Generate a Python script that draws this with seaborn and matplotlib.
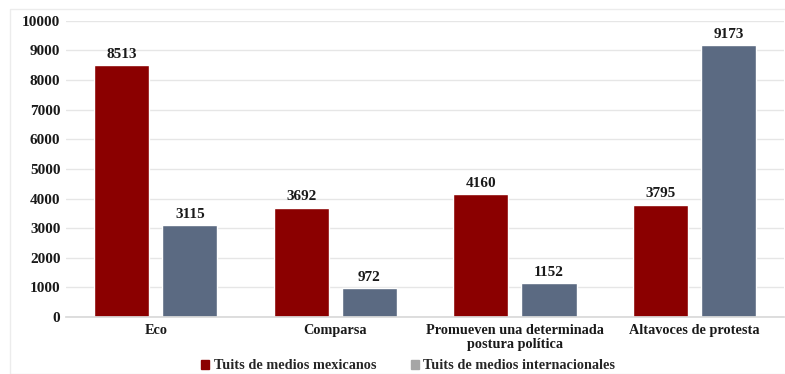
import matplotlib.pyplot as plt
import seaborn as sns
import pandas as pd
from matplotlib.patches import Patch

categorias = ["Eco", "Comparsa", "Promueven una determinada\npostura política", "Altavoces de protesta"]
mexicanos = [8513, 3692, 4160, 3795]
internacionales = [3115, 972, 1152, 9173]
series = ["Tuits de medios mexicanos", "Tuits de medios internacionales"]

df = pd.DataFrame({
    "categoria": categorias * 2,
    "serie": [series[0]] * 4 + [series[1]] * 4,
    "valor": mexicanos + internacionales,
})

sns.set_theme(style="white")
plt.rcParams["font.family"] = ["Liberation Serif", "DejaVu Serif"]

fig = plt.figure(figsize=(7.85, 3.74), dpi=100)
ax = fig.add_axes([0.084, 0.152, 0.915, 0.793])
colores = ["#8b0000", "#5b6a82"]
sns.barplot(data=df, x="categoria", y="valor", hue="serie", palette=colores,
            width=0.76, gap=0.19, ax=ax, legend=False, saturation=1)

for cont in ax.containers:
    ax.bar_label(cont, fmt="%d", padding=3, fontsize=11, fontweight="bold", color="#1a1a1a")

ax.set_ylim(0, 10000)
ax.set_xlim(-0.5, 3.5)
ax.set_yticks(range(0, 10001, 1000))
ax.yaxis.grid(True, color="#e6e6e6", linewidth=1)
ax.set_axisbelow(True)
for s in ["top", "right", "left"]:
    ax.spines[s].set_visible(False)
ax.spines["bottom"].set_color("#d9d9d9")
ax.set_xlabel("")
ax.set_ylabel("")
ax.tick_params(axis="y", length=0, labelsize=11, colors="#1a1a1a", pad=4)
ax.tick_params(axis="x", length=0, labelsize=10.3, colors="#1a1a1a", pad=5)
for t in ax.get_xticklabels() + ax.get_yticklabels():
    t.set_fontweight("bold")
for t in ax.get_xticklabels():
    t.set_linespacing(1.05)

handles = [Patch(color="#8b0000"), Patch(color="#a6a6a6")]
fig.legend(handles, series, loc="center", bbox_to_anchor=(0.52, 0.022), ncol=2,
           frameon=False, handlelength=0.6, handleheight=0.6, handletextpad=0.3,
           columnspacing=2.4, prop={"size": 10.3, "weight": "bold"})

fig.patches.append(plt.Rectangle((0.013, 0.0), 0.99, 0.975, transform=fig.transFigure,
                                 fill=False, edgecolor="#ececec", linewidth=1))
fig.savefig("out.png", dpi=100)
